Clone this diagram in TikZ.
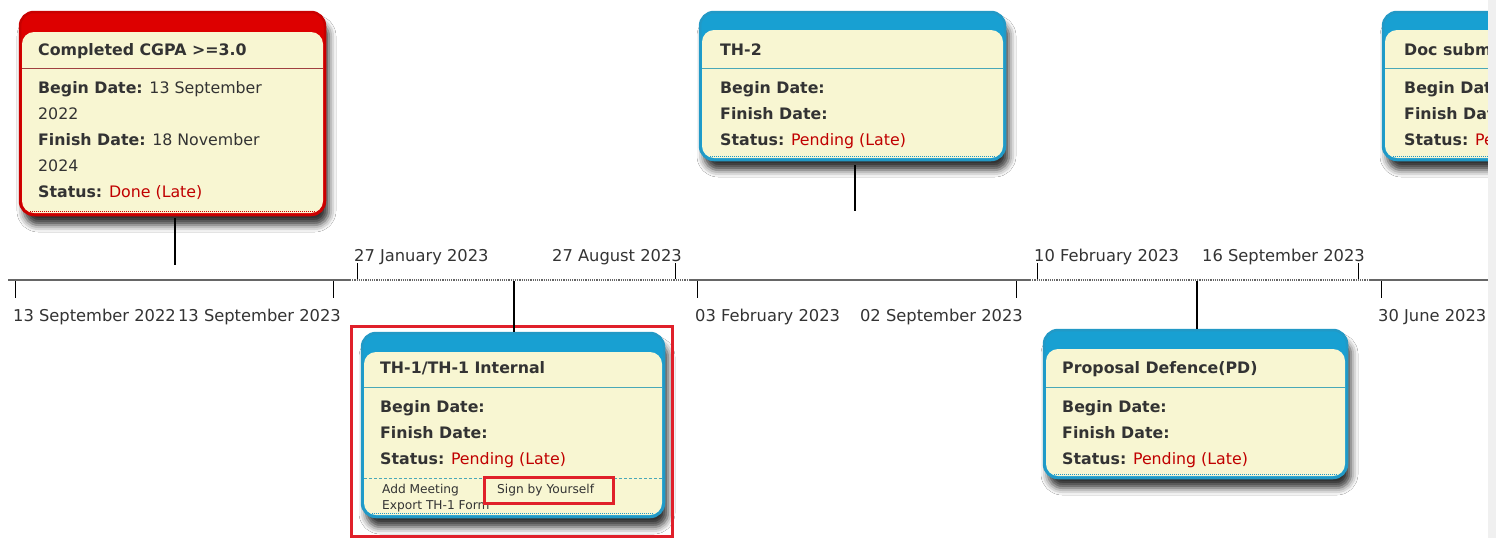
\documentclass[tikz,border=0pt]{standalone}
\usepackage{fontspec}
\setmainfont{DejaVu Sans}
\usetikzlibrary{shadows.blur}
\definecolor{cream}{HTML}{F8F6D2}
\definecolor{redb}{HTML}{C80000}
\definecolor{redband}{HTML}{DD0000}
\definecolor{blueb}{HTML}{2299C6}
\definecolor{blueband}{HTML}{18A0D2}
\definecolor{redsep}{HTML}{A04040}
\definecolor{bluesep}{HTML}{4AA8B8}
\definecolor{txt}{HTML}{333333}
\definecolor{late}{HTML}{C00000}
\definecolor{hl}{HTML}{E0202A}
\definecolor{tl}{HTML}{666666}
\tikzset{
  cardshadow/.style={blur shadow={shadow xshift=4pt, shadow yshift=-10pt, shadow blur radius=7pt, shadow opacity=80}},
  lbl/.style={anchor=base west, inner sep=0pt, text=txt, font=\fontsize{15.8}{18}\selectfont},
  ttl/.style={lbl, font=\fontsize{15.8}{18}\selectfont\bfseries},
  small/.style={anchor=base west, inner sep=0pt, text=txt, font=\fontsize{12.2}{14}\selectfont},
  datel/.style={anchor=base west, inner sep=0pt, text=txt, font=\fontsize{16.3}{18}\selectfont},
  dater/.style={anchor=base east, inner sep=0pt, text=txt, font=\fontsize{16.3}{18}\selectfont},
  conn/.style={black, line width=1.3pt},
  tick/.style={black, line width=0.9pt},
  tlsolid/.style={tl, line width=1.4pt},
  tldot/.style={tl, line width=1.2pt, densely dotted},
  hlbox/.style={hl, line width=3pt},
}
% #1 x1, #2 y1, #3 x2, #4 y2, #5 border, #6 band, #7 band bottom, #8 sep y, #9 sep colour
\newcommand\cardbox[9]{%
  \fill[#6, rounded corners=14pt, cardshadow] (#1,#2) rectangle (#3,#4);
  \fill[cream, rounded corners=12pt] (#1+2,#7) rectangle (#3-2,#4-2);
  \draw[#5, densely dotted, line width=1pt] (#1+10,#4-4) -- (#3-10,#4-4);
  \draw[#9, line width=1pt] (#1+2,#8) -- (#3-2,#8);
  \draw[#5, line width=2.5pt, rounded corners=14pt] (#1,#2) rectangle (#3,#4);
}
\begin{document}
\begin{tikzpicture}[x=1pt,y=-1pt]
\useasboundingbox (0,0) rectangle (1496,538);
\fill[white] (0,0) rectangle (1496,538);

% ---------- cards ----------
\cardbox{20}{12}{325}{215}{redb}{redband}{32}{68}{redsep}
\cardbox{700}{12}{1005}{160}{blueb}{blueband}{30}{68}{bluesep}
\begin{scope}
  \clip (1300,0) rectangle (1488,538);
  \cardbox{1383}{12}{1688}{160}{blueb}{blueband}{30}{68}{bluesep}
  \node[ttl] (d0) at (1404,55) {Doc submission};
  \node[lbl] (d1) at (1404,93) {\textbf{Begin Date:}};
  \node[lbl] (d2) at (1404,119) {\textbf{Finish Date:}};
  \node[lbl] (d3) at (1404,145) {\textbf{Status:} \textcolor{late}{Pending (Late)}};
\end{scope}
\fill[black!6] (1488,0) rectangle (1496,538);
\cardbox{362}{333}{664}{517}{blueb}{blueband}{352}{387}{bluesep}
\cardbox{1044}{330}{1347}{478}{blueb}{blueband}{349}{387}{bluesep}

% ---------- card texts ----------
\node[ttl] (a0) at (38,55) {Completed CGPA >=3.0};
\node[lbl] (a1) at (38,93) {\textbf{Begin Date:} 13 September};
\node[lbl] (a2) at (38,119) {2022};
\node[lbl] (a3) at (38,145) {\textbf{Finish Date:} 18 November};
\node[lbl] (a4) at (38,171) {2024};
\node[lbl] (a5) at (38,197) {\textbf{Status:} \textcolor{late}{Done (Late)}};

\node[ttl] (b0) at (720,55) {TH-2};
\node[lbl] (b1) at (720,93) {\textbf{Begin Date:}};
\node[lbl] (b2) at (720,119) {\textbf{Finish Date:}};
\node[lbl] (b3) at (720,145) {\textbf{Status:} \textcolor{late}{Pending (Late)}};

\node[ttl] (c0) at (380,373) {TH-1/TH-1 Internal};
\node[lbl] (c1) at (380,412) {\textbf{Begin Date:}};
\node[lbl] (c2) at (380,438) {\textbf{Finish Date:}};
\node[lbl] (c3) at (380,464) {\textbf{Status:} \textcolor{late}{Pending (Late)}};
\draw[bluesep, densely dashed, line width=0.8pt] (364,478) -- (662,478);
\node[small] (c4) at (382,493) {Add Meeting};
\node[small] (c5) at (497,493) {Sign by Yourself};
\node[small] (c6) at (382,509) {Export TH-1 Form};

\node[ttl] (e0) at (1062,373) {Proposal Defence(PD)};
\node[lbl] (e1) at (1062,412) {\textbf{Begin Date:}};
\node[lbl] (e2) at (1062,438) {\textbf{Finish Date:}};
\node[lbl] (e3) at (1062,464) {\textbf{Status:} \textcolor{late}{Pending (Late)}};

% ---------- highlight boxes ----------
\draw[hlbox] (351,326) rectangle (672,536);
\draw[hlbox] (484,477) rectangle (613,503);

% ---------- timeline ----------
\coordinate (t0) at (8,280);
\coordinate (t1) at (350,280);
\coordinate (t2) at (690,280);
\coordinate (t3) at (1030,280);
\coordinate (t4) at (1370,280);
\coordinate (t5) at (1488,280);
\draw[tlsolid] (t0) -- (t1);
\draw[tldot] (t1) -- (t2);
\draw[tlsolid] (t2) -- (t3);
\draw[tldot] (t3) -- (t4);
\draw[tlsolid] (t4) -- (t5);

% ticks below
\draw[tick] (15,281) -- (15,298);
\draw[tick] (333,281) -- (333,298);
\draw[tick] (697,281) -- (697,298);
\draw[tick] (1016,281) -- (1016,298);
\draw[tick] (1381,281) -- (1381,298);
% ticks above
\draw[tick] (357,263) -- (357,279);
\draw[tick] (675,263) -- (675,279);
\draw[tick] (1037,263) -- (1037,279);
\draw[tick] (1358,263) -- (1358,279);

\node[datel] (l1) at (13,321) {13 September 2022};
\node[dater] (l2) at (341,321) {13 September 2023};
\node[datel] (l3) at (695,321) {03 February 2023};
\node[dater] (l4) at (1023,321) {02 September 2023};
\node[datel] (l5) at (1378,321) {30 June 2023};
\node[datel] (u1) at (354,261) {27 January 2023};
\node[dater] (u2) at (682,261) {27 August 2023};
\node[datel] (u3) at (1034,261) {10 February 2023};
\node[dater] (u4) at (1365,261) {16 September 2023};

% ---------- connectors ----------
\coordinate (k1a) at (175,218);
\coordinate (k1b) at (175,265);
\coordinate (k2a) at (855,165);
\coordinate (k2b) at (855,211);
\coordinate (k3a) at (514,281);
\coordinate (k3b) at (514,332);
\coordinate (k4a) at (1197,281);
\coordinate (k4b) at (1197,329);
\draw[conn] (k1a) -- (k1b);
\draw[conn] (k2a) -- (k2b);
\draw[conn] (k3a) -- (k3b);
\draw[conn] (k4a) -- (k4b);
\end{tikzpicture}
\end{document}
